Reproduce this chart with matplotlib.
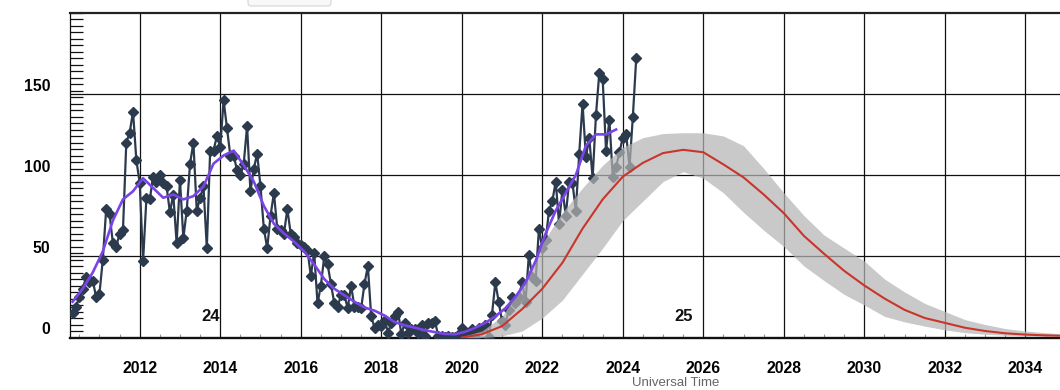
import numpy as np
import matplotlib
matplotlib.use('Agg')
import matplotlib.pyplot as plt
from matplotlib.ticker import MultipleLocator, FixedLocator
from matplotlib.transforms import ScaledTranslation
from matplotlib.patches import FancyBboxPatch

plt.rcParams['font.family'] = ['Liberation Sans', 'DejaVu Sans']

# observed monthly sunspot number, first value is May 2010
first_year, first_month = 2010, 5
monthly_ssn = [
    15, 19, 25, 30, 37, 34, 35, 25,                              # 2010 May-Dec
    27, 48, 79, 76, 58, 56, 64, 66, 120, 126, 139, 109,          # 2011
    95, 47, 86, 85, 99, 96, 100, 95, 93, 77, 88, 58,             # 2012
    97, 61, 78, 107, 120, 78, 86, 93, 55, 115, 115, 124,         # 2013
    117, 146, 129, 112, 112, 103, 100, 107, 130, 90, 104, 113,   # 2014
    93, 67, 55, 75, 89, 67, 66, 64, 79, 64, 62, 58,              # 2015
    57, 56, 54, 38, 52, 21, 32, 50, 45, 33, 21, 19,              # 2016
    26, 26, 18, 32, 19, 19, 18, 33, 44, 13, 6, 8,                # 2017
    7, 11, 3, 9, 13, 16, 2, 9, 3, 5, 5, 3,                       # 2018
    8, 1, 9, 9, 10, 1, 1, 0.5, 1, 0.4, 0.5, 1.5,                 # 2019
    6, 0.2, 1.5, 5, 0.2, 6, 6, 8, 0.6, 14, 34, 22,               # 2020
    10, 8, 17, 25, 21, 25, 34, 22, 51, 37, 35, 67,               # 2021
    55, 60, 78, 84, 96, 70, 91, 75, 96, 95, 78, 113,             # 2022
    144, 111, 123, 98, 137, 163, 159, 115, 134, 99, 105, 114,    # 2023
    123, 125, 105, 136, 172,                                     # 2024 Jan-May
]

# smoothed sunspot number, every 3rd month from May 2010
smooth_step = 3
smoothed_ssn = [
    22, 30, 40, 53, 72, 85, 90, 98, 92, 86, 88, 85, 87, 93, 107, 112,
    115, 106, 96, 81, 70, 64, 59, 53, 45, 36, 30, 26, 22, 18.5, 16.5,
    13.5, 9.5, 7.5, 6, 4.5, 3.3, 2.2, 2, 3.5, 6, 9, 13, 18, 25, 34, 47,
    64, 78, 89, 100, 118, 125, 125, 128,
]

# cycle 25 prediction, half-year steps from 2020.0
pred_start, pred_step = 2020.0, 0.5
pred_mid = [0, 2, 7, 17.5, 30, 46, 67, 85, 99, 107.5, 113.5, 115.5, 114, 106.5,
            98.5, 88, 76.5, 62.5, 51.5, 41, 32, 24, 17, 12, 9, 6, 4, 2.6, 1.8,
            1.3, 1]
pred_high = [0.5, 4, 13, 32, 58, 77, 92, 106, 117, 123, 125.5, 126, 126, 124,
             118, 104, 89, 75, 63, 55, 47, 36, 28, 21, 16, 11, 8, 5.5, 4, 3, 2]
pred_low = [0, 0, 1, 4, 12, 23, 39, 55, 72, 84, 96, 102, 98, 89, 77, 66, 56,
            44, 35, 26.5, 20, 13, 9.6, 7, 4.7, 3, 2, 1.4, 0.9, 0.7, 0.5]

cycle_labels = ['24', '25']
cycle_label_pos = [(2013.75, 13), (2025.52, 13)]

x_ticks = list(range(2012, 2036, 2))
y_ticks = [0, 50, 100, 150]


def month_to_year(k, step=1):
    # decimal year of the k-th (step-month) sample after the first month
    m = first_month - 1 + k * step
    return first_year + m / 12.0


month_t = np.array([month_to_year(k) for k in range(len(monthly_ssn))])
smooth_t = np.array([month_to_year(k, smooth_step) for k in range(len(smoothed_ssn))])
pred_t = pred_start + pred_step * np.arange(len(pred_mid))

fig = plt.figure(figsize=(10.6, 3.9), dpi=100)
ax = fig.add_axes([70 / 1060, 1 - 337.5 / 390, 1 - 70 / 1060, (337.5 - 12.5) / 390])

ax.plot(month_t, monthly_ssn, '-', color='#2b3a4c', lw=1.6, marker='D',
        markersize=5.2, zorder=3)
ax.fill_between(pred_t, pred_low, pred_high, color='#b4b4b4', alpha=0.72,
                lw=0, zorder=4)
ax.plot(pred_t, pred_mid, color='#c9352c', lw=1.5, zorder=5)
ax.plot(smooth_t, smoothed_ssn, color='#7a44e8', lw=1.9, zorder=6)

for lab, (tx, ty) in zip(cycle_labels, cycle_label_pos):
    ax.text(tx, ty, lab, ha='center', va='center', fontsize=12,
            fontweight='bold', color='#111111', zorder=7)

ax.set_xlim(2010.268, 2034.86)
ax.set_ylim(0, 200)

ax.xaxis.set_major_locator(FixedLocator(x_ticks))
ax.xaxis.set_minor_locator(MultipleLocator(0.5))
ax.yaxis.set_major_locator(FixedLocator(y_ticks))
ax.yaxis.set_minor_locator(MultipleLocator(4))

ax.tick_params(axis='x', which='major', length=0, pad=17, labelsize=11.3)
ax.tick_params(axis='x', which='minor', direction='in', length=3,
               width=0.8, color='#999999')
ax.tick_params(axis='y', which='major', length=0, pad=14, labelsize=11.3)
ax.tick_params(axis='y', which='minor', direction='in', length=9,
               width=0.9, color='#111111')
for lab in ax.get_xticklabels() + ax.get_yticklabels():
    lab.set_fontweight('bold')
offset = ScaledTranslation(0, 0.09, fig.dpi_scale_trans)
for lab in ax.get_yticklabels():
    lab.set_transform(lab.get_transform() + offset)

ax.grid(True, which='major', color='#111111', lw=0.9)
ax.set_axisbelow(True)

ax.spines['right'].set_visible(False)
ax.spines['top'].set_linewidth(1.6)
ax.spines['top'].set_color('#222222')
ax.spines['bottom'].set_linewidth(1.7)
ax.spines['bottom'].set_color('#111111')
ax.spines['left'].set_linewidth(0.9)
ax.spines['left'].set_color('#111111')

# axis title sits at the very bottom edge; kept just inside the figure
fig.text(676 / 1060, 1 - 389 / 390, 'Universal Time', ha='center',
         va='bottom', fontsize=9.5, color='#666666')

# small cut-off control box at the top
box = FancyBboxPatch((248 / 1060, 1 - 6 / 390), 83 / 1060, 20 / 390,
                     boxstyle='round,pad=0,rounding_size=0.003',
                     mutation_aspect=1060 / 390, transform=fig.transFigure,
                     fc='#f8f8f8', ec='#d4d4d4', lw=0.8)
fig.patches.append(box)

fig.savefig('out.png', dpi=100)
